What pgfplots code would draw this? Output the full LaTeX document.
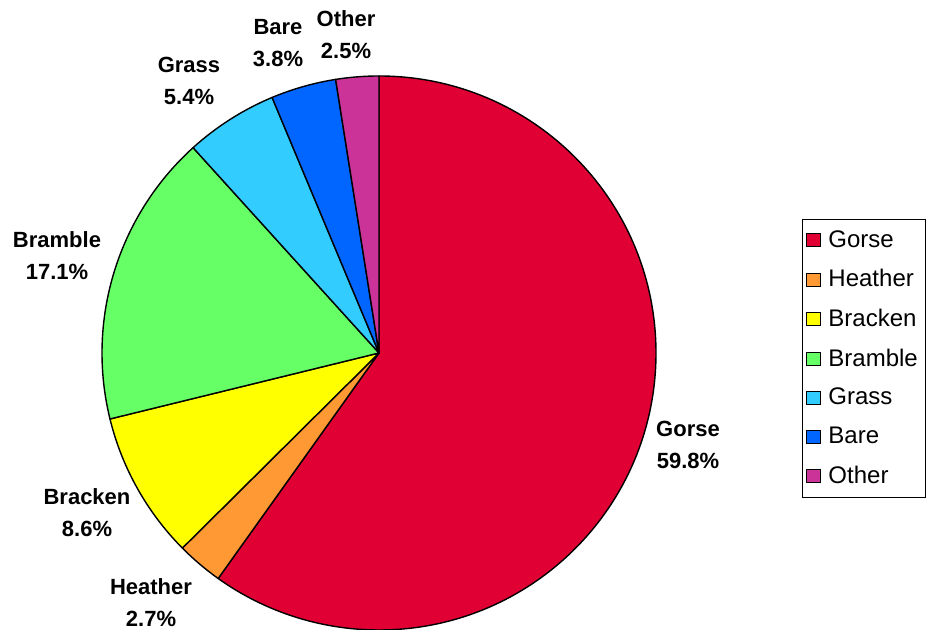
\documentclass[border=0pt]{standalone}
\usepackage{pgfplots}
\usepackage{pgfplotstable}
\pgfplotsset{compat=1.18}
\usepackage{fontspec}
\setmainfont{Liberation Sans}
\definecolor{c0}{HTML}{E00034}
\definecolor{c1}{HTML}{FF9933}
\definecolor{c2}{HTML}{FFFF00}
\definecolor{c3}{HTML}{66FF66}
\definecolor{c4}{HTML}{33CCFF}
\definecolor{c5}{HTML}{0066FF}
\definecolor{c6}{HTML}{CC3399}
\pgfplotstableread{
name pct
Gorse 59.8
Heather 2.7
Bracken 8.6
Bramble 17.1
Grass 5.4
Bare 3.8
Other 2.5
}\piedata
\gdef\tot{0}
\pgfplotstableforeachcolumnelement{pct}\of\piedata\as\v{%
  \pgfmathsetmacro\tmp{\tot+\v}\xdef\tot{\tmp}}
\gdef\acc{0}
\pgfplotstableforeachcolumnelement{pct}\of\piedata\as\v{%
  \pgfmathsetmacro\sa{90-(\acc/\tot)*360}%
  \pgfmathsetmacro\tmp{\acc+\v}\xdef\acc{\tmp}%
  \pgfmathsetmacro\ea{90-(\acc/\tot)*360}%
  \expandafter\xdef\csname sa\pgfplotstablerow\endcsname{\sa}%
  \expandafter\xdef\csname ea\pgfplotstablerow\endcsname{\ea}%
}
\begin{document}
\begin{tikzpicture}
\begin{axis}[
  x=0.5pt, y=0.5pt, xmin=0, xmax=928, ymin=0, ymax=630,
  hide axis, clip=false,
  legend image code/.code={\draw[#1, line width=0.5pt] (4pt,-3.3pt) rectangle (10.6pt,3.3pt);\path (12.5pt,0pt);},
  legend style={at={(axis description cs:0.8642,0.6524)}, anchor=north west,
    draw=black, line width=0.5pt, font=\fontsize{12}{14}\selectfont,
    row sep=5.6pt, inner xsep=2pt, inner ysep=3.5pt},
  legend cell align=left,
]
\pgfplotsinvokeforeach{0,...,6}{
  \filldraw[fill=c#1, draw=black, line width=0.7pt, line join=round]
    (axis cs:379,277) -- ++(\csname sa#1\endcsname:138.5pt)
    arc[start angle=\csname sa#1\endcsname, end angle=\csname ea#1\endcsname, radius=138.5pt] -- cycle;
}
\addlegendimage{fill=c0, draw=black}
\addlegendimage{fill=c1, draw=black}
\addlegendimage{fill=c2, draw=black}
\addlegendimage{fill=c3, draw=black}
\addlegendimage{fill=c4, draw=black}
\addlegendimage{fill=c5, draw=black}
\addlegendimage{fill=c6, draw=black}
\legend{Gorse,Heather,Bracken,Bramble,Grass,Bare,Other}
\tikzset{lbl/.style={align=center, font=\bfseries\fontsize{11}{16}\selectfont, inner sep=0pt}}
\node[lbl] at (axis cs:688,185) {Gorse\\59.8\%};
\node[lbl] at (axis cs:151,27.5) {Heather\\2.7\%};
\node[lbl] at (axis cs:87,117) {Bracken\\8.6\%};
\node[lbl] at (axis cs:57,374) {Bramble\\17.1\%};
\node[lbl] at (axis cs:189,549) {Grass\\5.4\%};
\node[lbl] at (axis cs:278,586.5) {Bare\\3.8\%};
\node[lbl] at (axis cs:346,595) {Other\\2.5\%};
\end{axis}
\pgfresetboundingbox
\useasboundingbox (current axis.south west) rectangle (current axis.north east);
\end{tikzpicture}
\end{document}
